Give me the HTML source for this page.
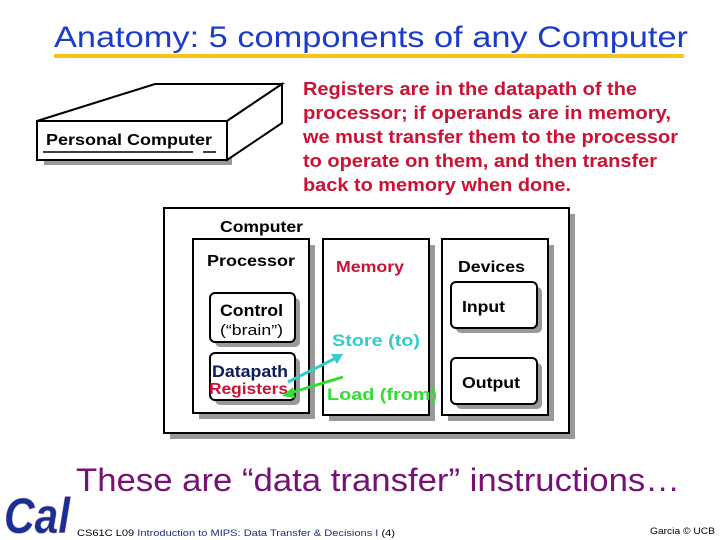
<!DOCTYPE html>
<html><head><style>
body{margin:0;width:720px;height:540px;background:#fff;overflow:hidden}
svg{display:block}
text{font-family:"Liberation Sans",Arial,Helvetica,sans-serif}
</style></head><body>
<svg width="720" height="540" viewBox="0 0 720 540" font-family="Liberation Sans, Arial, sans-serif">
<text x="54" y="47" font-size="30" fill="#1a3ccc" textLength="634" lengthAdjust="spacingAndGlyphs">Anatomy: 5 components of any Computer</text>
<rect x="54" y="54" width="630" height="4" fill="#f5c518"/>

<!-- PC box -->
<rect x="44" y="127" width="188" height="38" fill="#999"/>
<polygon points="37,121 155,84 282,84 227,121" fill="#fff" stroke="#000" stroke-width="2"/>
<polygon points="227,121 282,84 282,123 227,160" fill="#fff" stroke="#000" stroke-width="2"/>
<rect x="37" y="121" width="190" height="39" fill="#fff" stroke="#000" stroke-width="2"/>
<text x="46" y="145" font-size="16" font-weight="bold" textLength="166" lengthAdjust="spacingAndGlyphs">Personal Computer</text>
<line x1="43" y1="152" x2="193" y2="152" stroke="#000" stroke-width="1.5"/>
<line x1="203" y1="152" x2="216" y2="152" stroke="#000" stroke-width="1.5"/>

<g font-size="18" font-weight="bold" fill="#cc1133">
<text x="303" y="95" textLength="334" lengthAdjust="spacingAndGlyphs">Registers are in the datapath of the</text>
<text x="303" y="119" textLength="368" lengthAdjust="spacingAndGlyphs">processor;  if operands are in memory,</text>
<text x="303" y="143" textLength="375" lengthAdjust="spacingAndGlyphs">we must transfer them to the processor</text>
<text x="303" y="167" textLength="354" lengthAdjust="spacingAndGlyphs">to operate on them, and then transfer</text>
<text x="303" y="191" textLength="268" lengthAdjust="spacingAndGlyphs">back to memory when done.</text>
</g>

<!-- computer -->
<rect x="170" y="214" width="405" height="225" fill="#999"/>
<rect x="164" y="208" width="405" height="225" fill="#fff" stroke="#000" stroke-width="2"/>
<text x="220" y="232" font-size="16" font-weight="bold" textLength="83" lengthAdjust="spacingAndGlyphs">Computer</text>

<rect x="199" y="245" width="116" height="174" fill="#999"/>
<rect x="193" y="239" width="116" height="174" fill="#fff" stroke="#000" stroke-width="2"/>
<text x="207" y="266" font-size="16" font-weight="bold" textLength="88" lengthAdjust="spacingAndGlyphs">Processor</text>

<rect x="329" y="245" width="106" height="176" fill="#999"/>
<rect x="323" y="239" width="106" height="176" fill="#fff" stroke="#000" stroke-width="2"/>
<text x="336" y="272" font-size="16" font-weight="bold" fill="#cc1133" textLength="68" lengthAdjust="spacingAndGlyphs">Memory</text>

<rect x="448" y="245" width="106" height="176" fill="#999"/>
<rect x="442" y="239" width="106" height="176" fill="#fff" stroke="#000" stroke-width="2"/>
<text x="458" y="272" font-size="16" font-weight="bold" textLength="67" lengthAdjust="spacingAndGlyphs">Devices</text>

<rect x="215" y="298" width="85" height="49" rx="5" fill="#999"/>
<rect x="210" y="293" width="85" height="49" rx="5" fill="#fff" stroke="#000" stroke-width="2"/>
<text x="220" y="316" font-size="17" font-weight="bold" textLength="63" lengthAdjust="spacingAndGlyphs">Control</text>
<text x="220" y="335" font-size="15" textLength="63" lengthAdjust="spacingAndGlyphs">(“brain”)</text>

<rect x="215" y="358" width="85" height="47" rx="5" fill="#999"/>
<rect x="210" y="353" width="85" height="47" rx="5" fill="#fff" stroke="#000" stroke-width="2"/>
<text x="212" y="377" font-size="17" font-weight="bold" fill="#0a1a5a" textLength="76" lengthAdjust="spacingAndGlyphs">Datapath</text>
<text x="209" y="394" font-size="16" font-weight="bold" fill="#cc1133" textLength="79" lengthAdjust="spacingAndGlyphs">Registers</text>

<rect x="456" y="287" width="86" height="46" rx="5" fill="#999"/>
<rect x="451" y="282" width="86" height="46" rx="5" fill="#fff" stroke="#000" stroke-width="2"/>
<text x="462" y="312" font-size="16" font-weight="bold" textLength="43" lengthAdjust="spacingAndGlyphs">Input</text>

<rect x="456" y="363" width="86" height="46" rx="5" fill="#999"/>
<rect x="451" y="358" width="86" height="46" rx="5" fill="#fff" stroke="#000" stroke-width="2"/>
<text x="462" y="388" font-size="16" font-weight="bold" textLength="58" lengthAdjust="spacingAndGlyphs">Output</text>

<text x="332" y="346" font-size="17" font-weight="bold" fill="#33cccc" textLength="88" lengthAdjust="spacingAndGlyphs">Store (to)</text>
<text x="327" y="400" font-size="17" font-weight="bold" fill="#33dd33" textLength="110" lengthAdjust="spacingAndGlyphs">Load (from)</text>

<line x1="288" y1="382" x2="336" y2="358" stroke="#33cccc" stroke-width="3"/>
<polygon points="343,354 331,354 337,364" fill="#33cccc"/>
<line x1="343" y1="377" x2="290" y2="393" stroke="#33dd33" stroke-width="3"/>
<polygon points="282,396 293,387 295,398" fill="#33dd33"/>

<text x="76" y="491" font-size="32" fill="#771177" textLength="604" lengthAdjust="spacingAndGlyphs">These are “data transfer” instructions…</text>

<!-- Cal logo -->
<text x="4" y="533" font-size="50" font-weight="bold" font-style="italic" font-family="Liberation Serif, serif" fill="#1a2e99" stroke="#caa" stroke-width="0.5" textLength="66" lengthAdjust="spacingAndGlyphs">Cal</text>

<text x="77" y="536" font-size="9" fill="#000" textLength="318" lengthAdjust="spacingAndGlyphs">CS61C L09 <tspan fill="#1a2e80">Introduction to MIPS:  Data Transfer &amp; Decisions I</tspan> (4)</text>
<text x="650" y="534" font-size="9" fill="#000" textLength="65" lengthAdjust="spacingAndGlyphs">Garcia © UCB</text>
</svg>
</body></html>
